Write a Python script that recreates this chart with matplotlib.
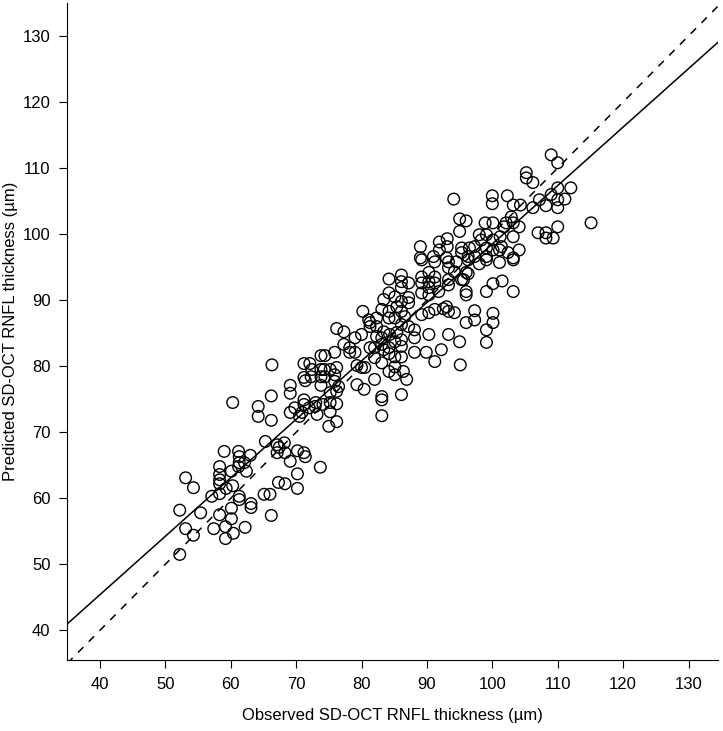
import matplotlib
matplotlib.use("Agg")
import matplotlib.pyplot as plt
import numpy as np

plt.rcParams["font.family"] = ["Liberation Sans", "DejaVu Sans"]

# observed vs predicted SD-OCT RNFL thickness (um)
observed = [
    60.3, 64.2, 64.2, 66.2, 69.1, 69.8, 71.2, 72.0, 72.9, 73.2, 70.9, 70.5,
    65.3, 67.1, 67.4, 68.2, 67.1, 68.3, 70.2, 71.2, 71.4, 69.1, 73.7, 70.2,
    59.0, 61.2, 61.3, 61.3, 62.1, 61.2, 63.0, 62.4, 60.1, 58.3, 58.3, 58.3,
    58.3, 59.3, 60.3, 53.1, 54.3, 57.1, 58.3, 61.3, 61.3, 63.1, 63.1, 65.1,
    66.0, 67.3, 68.3, 70.2, 52.2, 55.4, 58.3, 60.1, 60.1, 66.2, 53.1, 54.3,
    57.4, 59.2, 60.4, 62.2, 59.2, 52.2,
    73.0, 74.1, 75.2, 76.2, 75.2, 75.0, 76.2, 83.1, 83.1,
    66.3, 66.2, 69.1, 69.1, 71.2, 72.1, 71.2, 71.4, 72.3, 73.8, 73.8, 73.8,
    73.8, 71.2,
    89.2, 91.2, 93.3, 94.5, 96.3, 84.2, 86.1, 86.1, 87.2, 86.1, 89.2, 90.3,
    91.2, 89.2, 90.3, 91.2, 90.3, 93.3, 93.3, 93.3, 94.2, 96.0, 95.3, 96.0,
    96.0, 84.2, 85.1, 83.4, 86.1, 87.2, 87.2, 89.2, 90.3, 91.8, 80.2, 83.1,
    84.2, 85.4, 86.1, 86.6, 84.2, 85.1, 89.2, 90.3, 91.2, 92.5, 93.0, 93.3,
    94.2, 96.0, 81.1, 81.3, 81.3, 82.3, 82.3, 76.2, 77.3, 79.0, 80.0, 83.4,
    83.1, 82.3, 84.3, 85.4, 86.1, 87.2, 88.1, 88.1, 90.3, 93.3, 95.0, 77.3,
    78.2, 78.2, 79.0, 81.3, 82.0, 83.1, 83.4, 84.2, 85.1, 86.1, 86.1, 84.2,
    85.1, 86.1, 88.1, 89.9, 91.2, 92.2, 95.1, 74.4, 75.9, 74.3, 76.2, 75.2,
    74.4, 75.9, 79.3, 80.0, 80.5, 82.0, 83.1, 84.2, 85.1, 85.1, 86.4, 82.0,
    86.9, 75.9, 76.5, 76.2, 75.2, 79.3, 80.4, 83.1, 86.1, 72.4,
    98.0, 99.1, 101.1, 103.2, 96.3, 95.6, 100.1, 101.5, 99.1, 103.2, 97.3,
    97.3, 100.1, 100.1, 99.1, 99.1,
    94.1, 95.0, 96.0, 95.0, 91.9, 93.1, 93.1, 91.9, 89.0, 89.0, 91.0, 93.0,
    95.3, 95.3, 96.3, 96.5,
    109.0, 110.0, 105.2, 105.2, 106.2, 110.0, 112.0, 109.0, 110.0, 111.1,
    107.2, 108.2, 110.0, 106.2, 100.0, 100.0, 102.3, 103.2, 104.3, 115.1,
    107.0, 108.2, 108.2, 109.3, 110.0, 102.9, 103.2, 102.1, 101.8, 104.1,
    103.2, 104.1, 98.9, 100.1, 98.0, 99.1, 98.3, 100.1, 101.2, 101.4, 101.1,
    100.1, 99.1, 97.3, 97.3, 99.1, 102.4, 103.2,
]
predicted = [
    74.5, 73.9, 72.4, 71.8, 73.0, 73.7, 74.2, 73.7, 73.9, 72.7, 73.0, 72.4,
    68.6, 68.1, 67.7, 68.4, 66.9, 66.9, 67.2, 66.9, 66.3, 65.6, 64.7, 63.7,
    67.1, 67.1, 66.3, 65.4, 65.4, 64.8, 66.5, 64.1, 64.1, 64.8, 63.6, 62.8,
    62.2, 61.5, 61.9, 63.1, 61.6, 60.3, 60.7, 60.3, 59.8, 59.2, 58.6, 60.6,
    60.6, 62.4, 62.2, 61.5, 58.2, 57.8, 57.5, 58.5, 56.9, 57.4, 55.4, 54.4,
    55.4, 55.7, 54.7, 55.6, 53.9, 51.5,
    74.5, 74.2, 74.5, 74.3, 73.1, 70.9, 71.6, 74.9, 72.5,
    80.2, 75.5, 77.1, 75.9, 80.4, 80.4, 78.3, 77.8, 78.4, 81.6, 79.5, 78.4,
    77.1, 74.9,
    96.1, 95.8, 95.8, 95.8, 96.1, 93.2, 93.8, 92.8, 92.6, 91.9, 93.5, 94.2,
    93.5, 92.6, 92.8, 92.6, 91.9, 94.9, 93.1, 92.3, 94.3, 94.2, 93.1, 91.3,
    90.8, 91.1, 90.5, 90.1, 89.8, 90.4, 89.6, 91.1, 90.8, 91.3, 88.3, 88.6,
    88.3, 89.0, 88.3, 87.5, 87.3, 87.3, 87.8, 88.1, 88.6, 88.7, 89.0, 88.3,
    88.1, 86.6, 87.0, 86.6, 86.0, 87.3, 86.0, 85.7, 85.2, 84.3, 84.8, 85.2,
    84.3, 84.5, 84.8, 85.1, 86.3, 86.0, 85.5, 84.3, 84.8, 84.8, 83.7, 83.3,
    82.8, 82.1, 82.1, 82.8, 82.8, 83.3, 82.5, 82.8, 83.7, 84.0, 83.0, 81.9,
    81.4, 81.4, 82.1, 82.1, 80.7, 82.5, 80.2, 81.6, 82.1, 79.5, 79.8, 79.5,
    78.4, 78.7, 80.1, 79.8, 79.8, 81.3, 80.5, 79.2, 79.9, 78.7, 79.2, 78.0,
    78.0, 77.7, 76.9, 76.2, 76.0, 77.2, 76.5, 75.4, 75.7, 79.5,
    95.5, 96.1, 95.7, 96.1, 94.0, 93.1, 92.5, 92.9, 91.3, 91.3, 88.4,
    87.0, 88.0, 86.6, 85.5, 83.6,
    105.3, 102.3, 102.0, 100.4, 98.8, 99.3, 98.1, 97.6, 98.1, 96.4, 96.6, 96.4,
    97.9, 97.2, 96.6, 97.9,
    112.0, 110.8, 109.3, 108.5, 107.8, 107.0, 107.0, 106.0, 105.2, 105.3,
    105.2, 104.3, 104.0, 104.0, 105.8, 104.6, 105.8, 104.4, 104.4, 101.7,
    100.2, 100.2, 99.4, 99.4, 101.1, 102.6, 101.7, 101.7, 101.1, 101.1,
    99.6, 97.6, 101.7, 101.7, 99.9, 99.9, 99.1, 99.1, 99.6, 98.1, 97.6,
    97.6, 97.9, 98.1, 96.6, 96.6, 97.2, 96.4,
]

# fitted line (intercept, slope)
fit_intercept = 10.0
fit_slope = 0.885

ticks = [40, 50, 60, 70, 80, 90, 100, 110, 120, 130]

fig = plt.figure(figsize=(7.23, 7.31), dpi=100)
ax = fig.add_axes([0.093, 0.097, 0.9, 0.899])

ax.scatter(observed, predicted, s=70, facecolors="none", edgecolors="black",
           linewidths=1.0, zorder=3)

xl = np.array([35.0, 134.5])
ax.plot(xl, xl, color="black", linestyle=(0, (5, 5)), linewidth=1.1)
ax.plot(xl, fit_intercept + fit_slope * xl, color="black", linewidth=1.1)

ax.set_xlim(35.0, 134.5)
ax.set_ylim(35.5, 135.0)
ax.set_xticks(ticks)
ax.set_yticks(ticks)
ax.tick_params(direction="out", length=6, width=0.8, labelsize=12, pad=6)
for s in ["top", "right"]:
    ax.spines[s].set_visible(False)

ax.set_xlabel("Observed SD-OCT RNFL thickness (µm)", fontsize=12, labelpad=12)
ax.set_ylabel("Predicted SD-OCT RNFL thickness (µm)", fontsize=12)
ax.yaxis.set_label_coords(-0.075, 0.5)

fig.savefig("out.png", dpi=100)
